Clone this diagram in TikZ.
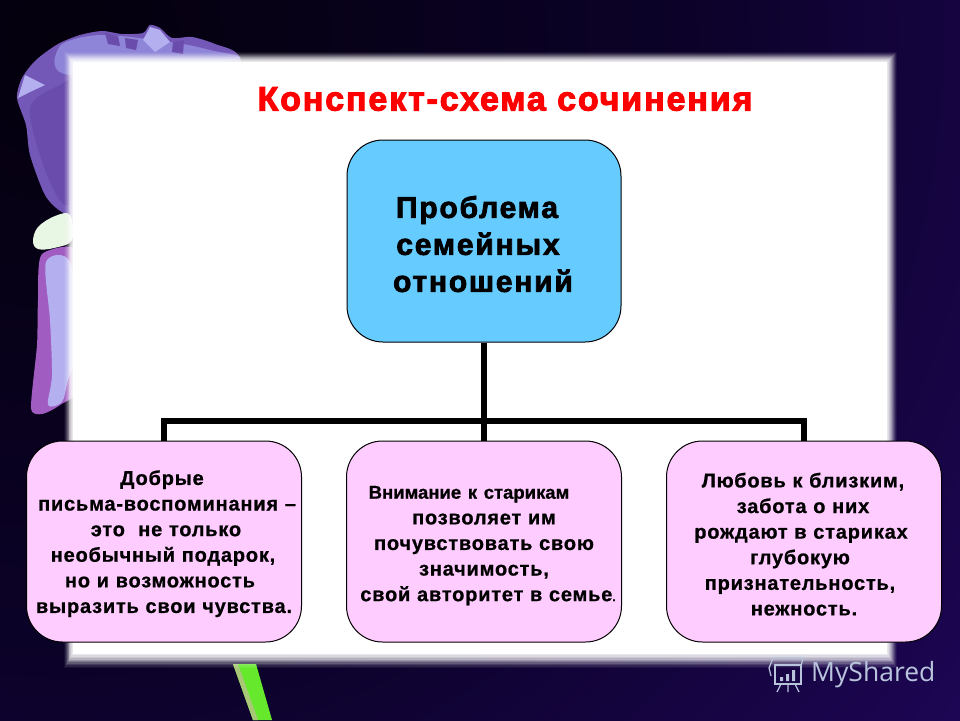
\documentclass[tikz,border=0pt]{standalone}
\usepackage{fontspec}
\setmainfont{Liberation Sans}
\newfontfamily\boxfam[LetterSpace=4,FakeBold=0.8]{Liberation Sans Bold}
\newfontfamily\tightfam[LetterSpace=0,FakeBold=0.8]{Liberation Sans Bold}
\newfontfamily\topfam[LetterSpace=6,FakeBold=2.5]{Liberation Sans Bold}
\newfontfamily\titlefam[LetterSpace=5.5,FakeBold=3]{Liberation Sans Bold}
\newfontfamily\markfam{Open Sans}
\definecolor{bga}{HTML}{04000C}
\definecolor{bgb}{HTML}{0C022A}
\definecolor{bgc}{HTML}{1E0656}
\definecolor{bgd}{HTML}{2C0A70}
\definecolor{petal}{HTML}{7458B8}
\definecolor{petaldark}{HTML}{6A4CAC}
\definecolor{petalmid}{HTML}{8E84D8}
\definecolor{petallight}{HTML}{B4B0F0}
\definecolor{petalpink}{HTML}{A05CC0}
\definecolor{blob}{HTML}{E8F6E4}
\definecolor{stemgreen}{HTML}{66E82C}
\definecolor{stempale}{HTML}{A8C878}
\definecolor{topfill}{HTML}{66CCFF}
\definecolor{lowfill}{HTML}{FFCCFF}
\definecolor{marktext}{HTML}{B8C4DC}
\pgfdeclareradialshading{bgshade}{\pgfpoint{0bp}{0bp}}{color(0bp)=(bga); color(9bp)=(bgb); color(16bp)=(bgc); color(25bp)=(bgd); color(50bp)=(bgd)}
\newcommand{\shft}[1]{\hspace*{#1}}
\newcommand{\lift}[1]{\rule{0pt}{#1}}
\tikzset{
  topbox/.style={draw=black,line width=1pt,fill=topfill,rounded corners=36pt,minimum width=274pt,minimum height=202pt,
    text width=274pt,inner sep=0pt,align=center,font=\fontsize{30}{37}\topfam},
  lowbox/.style={draw=black,line width=1pt,fill=lowfill,rounded corners=36pt,minimum width=275pt,minimum height=201pt,
    text width=275pt,inner sep=0pt,align=center,font=\fontsize{20}{25.6}\boxfam},
  link/.style={draw=black,line width=6pt,line cap=butt,line join=miter},
  titletext/.style={text=red,font=\fontsize{34}{36}\titlefam,inner sep=0pt},
  marklabel/.style={text=marktext,font=\fontsize{26.5}{30}\markfam,inner sep=0pt,anchor=west},
  markicon/.style={draw=marktext,line width=1.2pt},
}
\begin{document}
\begin{tikzpicture}[x=1pt,y=-1pt]
\useasboundingbox (0,0) rectangle (960,720);
% background
\begin{scope}
\clip (0,0) rectangle (960,720);
\shade[shading=bgshade] (60,40) circle (1800);
\end{scope}
% stem
\fill[stemgreen] (233,664) -- (256,664) -- (272,720) -- (253,720) -- cycle;
\fill[stempale] (233,664) -- (238,664) -- (258,720) -- (253,720) -- cycle;
% flower petals
\fill[petal] plot[smooth cycle,tension=0.45] coordinates {(17,98)(22,78)(36,60)(58,44)(80,35)(102,31)(122,34)(143,33)(150,25)(160,28)(172,38)(192,37)(215,44)(240,58)(240,120)(90,220)(62,212)(45,195)(30,155)(26,125)};
\fill[petaldark] plot[smooth cycle,tension=0.5] coordinates {(30,108)(60,85)(85,80)(85,180)(65,205)(45,170)};
\fill[petalmid] plot[smooth cycle,tension=0.5] coordinates {(60,46)(100,35)(170,42)(210,50)(235,60)(70,75)};
\fill[petaldark] (105,33) -- (118,36) -- (120,46) -- (108,44) -- cycle;
\fill[petaldark] (125,38) -- (138,40) -- (136,50) -- (126,48) -- cycle;
\fill[petaldark] (173,42) -- (184,40) -- (183,54) -- (172,52) -- cycle;
\fill[petallight] (150,27) -- (160,30) -- (170,42) -- (155,52) -- (143,40) -- cycle;
\fill[petallight] (18,98) -- (25,75) -- (45,85) -- (30,92) -- cycle;
\fill[petalpink] plot[smooth cycle,tension=0.4] coordinates {(42,254)(38,300)(37,345)(31,408)(42,414)(60,405)(85,380)(85,254)};
\fill[petallight] plot[smooth cycle,tension=0.5] coordinates {(46,262)(50,320)(52,375)(48,405)(62,402)(68,380)(80,340)(70,262)};
\fill[blob] plot[smooth cycle,tension=0.6] coordinates {(33,241)(38,227)(55,216)(70,215)(72,240)(54,248)(38,249)};
% panel with soft edge
\foreach \i in {0,...,9}{
  \pgfmathsetmacro{\op}{0.05+0.035*\i}
  \fill[white,opacity=\op] ({64+\i*0.9},{52+\i}) rectangle ({897-\i},{668-\i*1.4});
}
\fill[white] (73,62) rectangle (887,654);
% title
\node[titletext] (title) at (505,99) {Конспект-схема сочинения};
% boxes
\node[topbox] (top) at (484,241) {\lift{28pt}\shft{-14pt}Проблема\\ \shft{-12pt}семейных\\ \shft{-2pt}отношений};
\node[lowbox] (left) at (164,541.5) {\lift{19pt}\shft{-4pt}Добрые\\ \shft{6pt}письма-воспоминания –\\ \shft{4pt}это~ не только\\ \shft{-2pt}необычный подарок,\\ \shft{-8pt}но и возможность\\ выразить свои чувства.};
\node[lowbox] (mid) at (484,541.5) {\lift{21pt}\shft{-30pt}{\fontsize{18.5}{25.6}\tightfam Внимание к старикам}\\ позволяет им\\ почувствовать свою\\ значимость,\\ \shft{8pt}свой авторитет в семье{\fontsize{12}{12}\selectfont.}};
\node[lowbox] (right) at (804,541.5) {\lift{20pt}\shft{-2pt}Любовь к близким,\\ \shft{-2pt}забота о них\\ \shft{-6pt}рождают в стариках\\ \shft{-8pt}глубокую\\ \shft{-8pt}признательность,\\ нежность.};
% connectors
\coordinate (bus) at (484,421);
\path[link] (top.south) -- (mid.north);
\path[link] (left.north) |- (bus) -| (right.north);
% watermark
\node[marklabel] (mark) at (811,675) {MyShared};
\draw[markicon] (773,658) -- (769,668) -- (771,676);
\draw[markicon] (773,658) -- (803,658) -- (801,666);
\draw[markicon] (775,665) rectangle (801,684);
\fill[marktext] (780,677) rectangle (783,681) (786,674) rectangle (789,681) (792,670) rectangle (795,681);
\draw[markicon] (781,684) -- (777,692) (795,684) -- (799,692) (788,684) -- (788,692);
\end{tikzpicture}
\end{document}
